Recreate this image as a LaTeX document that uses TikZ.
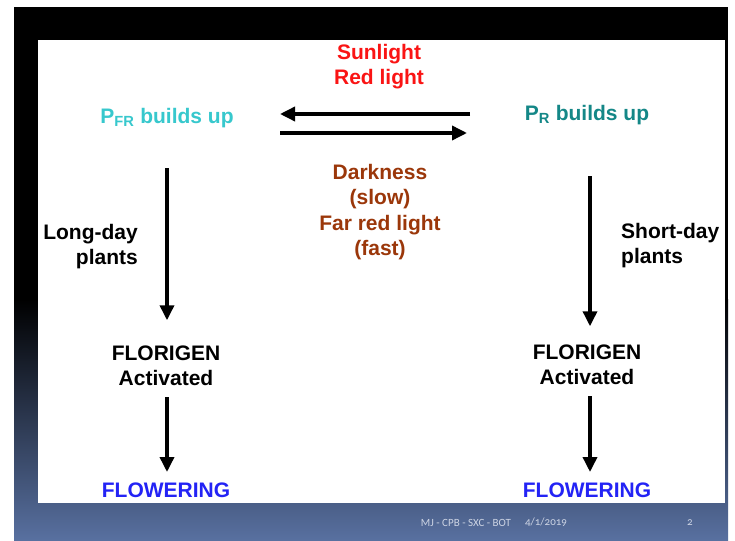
\documentclass[tikz,border=0pt]{standalone}
\usepackage{fontspec}
\setmainfont{Liberation Sans}
\newfontfamily\footfont[Numbers=OldStyle]{Carlito}
\usetikzlibrary{arrows.meta,positioning}

\definecolor{sunred}{RGB}{250,20,20}
\definecolor{pfrcyan}{RGB}{55,200,205}
\definecolor{prteal}{RGB}{20,135,135}
\definecolor{darkbrown}{RGB}{155,55,10}
\definecolor{flowblue}{RGB}{35,35,245}
\definecolor{slideblue}{RGB}{88,112,160}
\definecolor{footgray}{RGB}{205,212,228}

\tikzset{
  lbl/.style={font=\fontsize{21}{25}\selectfont\bfseries, inner sep=0pt},
  oneline/.style={lbl, text height=15.2pt, text depth=4.4pt},
  bigarrow/.style={-{Triangle[length=15pt,width=14pt]}, line width=3.5pt},
  foot/.style={font=\footfont\fontsize{11}{13}\selectfont, text=footgray, inner sep=0pt},
}

\begin{document}
\begin{tikzpicture}[x=1pt, y=-1pt]
\useasboundingbox (0,0) rectangle (735,540);
% slide background
\fill[white] (0,0) rectangle (735,540);
\fill[black] (14,7) rectangle (728,300);
\shade[top color=black, bottom color=slideblue] (14,299.5) rectangle (728,540);
\fill[white] (38,40) rectangle (725,503);

% labels
\node[lbl, align=center, text=sunred] (sun) at (379,66.6) {Sunlight\\Red light};
\node[oneline, text=pfrcyan] (pfr) at (167,118) {P\textsubscript{FR} builds up};
\node[oneline, text=prteal] (pr) at (587,115) {P\textsubscript{R} builds up};
\node[lbl, align=center, text=darkbrown, font=\fontsize{21}{25.5}\selectfont\bfseries] (dark) at (380,212.3) {Darkness\\(slow)\\Far red light\\(fast)};
\node[lbl, align=right, anchor=east] (longday) at (138,246.5) {Long-day\\plants};
\node[lbl, align=left, anchor=west] (shortday) at (621,245.5) {Short-day\\plants};
\node[lbl, align=center] (florL) at (166,365.4) {FLORIGEN\\Activated};
\node[lbl, align=center] (florR) at (587,364.4) {FLORIGEN\\Activated};
\node[oneline, text=flowblue] (flowL) at (166,492) {FLOWERING};
\node[oneline, text=flowblue] (flowR) at (587,492) {FLOWERING};

% footer
\node[foot] (author) at (466,522.5) {MJ - CPB - SXC - BOT};
\node[foot] (date) at (546,522.5) {4/1/2019};
\node[foot] (page) at (690,522.5) {2};

% arrows
\coordinate (topR) at (470,114);
\coordinate (topL) at (280,114);
\coordinate (botL) at (280,133);
\coordinate (botR) at (467,133);
\draw[bigarrow] (topR) -- (topL);
\draw[bigarrow] (botL) -- (botR);

\draw[bigarrow, shorten <=40pt, shorten >=25pt] (pfr.south) -- (pfr.south |- florL.north);
\draw[bigarrow, shorten <=51pt, shorten >=18pt] ([xshift=3pt]pr.south) -- ([xshift=3pt]pr.south |- florR.north);
\draw[bigarrow, shorten <=11.5pt, shorten >=10pt] ([xshift=1pt]florL.south) -- ([xshift=1pt]florL.south |- flowL.north);
\draw[bigarrow, shorten <=11.5pt, shorten >=10pt] ([xshift=3pt]florR.south) -- ([xshift=3pt]florR.south |- flowR.north);

\end{tikzpicture}
\end{document}
